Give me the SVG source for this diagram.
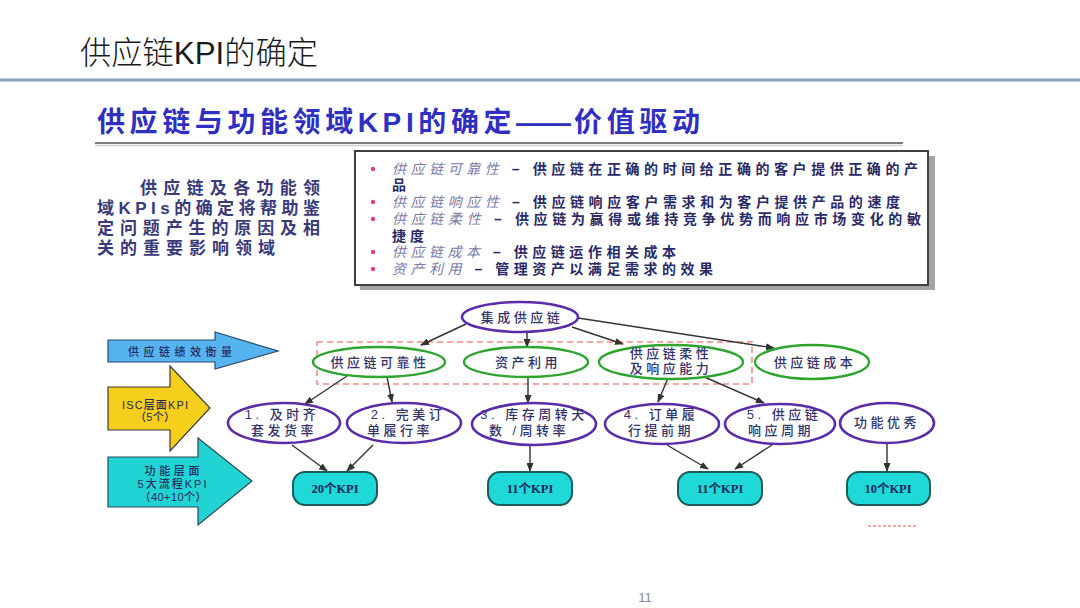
<svg xmlns="http://www.w3.org/2000/svg" width="1080" height="608" viewBox="0 0 1080 608">
<defs>
<style>
.cjk{font-family:"Liberation Sans","Noto Sans CJK SC",sans-serif;}
.lbl{font-family:"Liberation Sans","Noto Sans CJK SC",sans-serif;font-size:13px;letter-spacing:3.5px;fill:#33336b;font-weight:500;text-anchor:middle;}
.arrtxt{font-family:"Liberation Sans","Noto Sans CJK SC",sans-serif;font-size:11px;fill:#2a2a5a;font-weight:500;text-anchor:middle;}
.ellP{fill:#ffffff;stroke:#5a2ca8;stroke-width:2.6;}
.ellG{fill:#ffffff;stroke:#2fa52f;stroke-width:2.4;}
.kpi{fill:#1fd8d8;stroke:#1d5a5a;stroke-width:2;}
.kpitxt{font-family:"Liberation Serif","Noto Sans CJK SC",serif;font-size:12.5px;font-weight:bold;fill:#1a2a5a;text-anchor:middle;}
.conn{stroke:#333333;stroke-width:1.4;fill:none;marker-end:url(#ah);}
.bul{fill:#e0408a;}
.it{font-style:italic;fill:#7a7aa8;font-weight:400;}
.bx{font-family:"Liberation Sans","Noto Sans CJK SC",sans-serif;font-size:14px;letter-spacing:4px;fill:#2a2a66;font-weight:bold;}
.lt{font-family:"Liberation Sans","Noto Sans CJK SC",sans-serif;font-size:17px;font-weight:bold;fill:#3a3a78;}
</style>
<marker id="ah" markerWidth="9" markerHeight="7" refX="8" refY="3.5" orient="auto" markerUnits="userSpaceOnUse">
<path d="M0,0 L9,3.5 L0,7 z" fill="#333333"/>
</marker>
</defs>
<rect width="1080" height="608" fill="#ffffff"/>

<g id="header">
<text x="80" y="64" class="cjk" font-size="32" font-weight="300" fill="#1a1a1a" textLength="238" lengthAdjust="spacingAndGlyphs">供应链KPI的确定</text>
<line x1="0" y1="80" x2="1080" y2="80" stroke="#8c9bb5" stroke-width="3"/>
</g>

<g id="subtitle">
<text x="97" y="132" class="cjk" font-size="28" font-weight="bold" fill="#3030c0" letter-spacing="4.6">供应链与功能领域KPI的确定<tspan letter-spacing="-1">——</tspan><tspan dx="4">价值驱动</tspan></text>
<line x1="95" y1="143" x2="903" y2="143" stroke="#7a7a7a" stroke-width="2"/>
<line x1="95" y1="145.5" x2="903" y2="145.5" stroke="#d0d0d0" stroke-width="1.5"/>
</g>

<g id="intro-text">
<text class="lt" x="140" y="194" textLength="180" lengthAdjust="spacing">供应链及各功能领</text>
<text class="lt" x="97" y="214" textLength="223" lengthAdjust="spacing">域KPIs的确定将帮助鉴</text>
<text class="lt" x="97" y="234" textLength="223" lengthAdjust="spacing">定问题产生的原因及相</text>
<text class="lt" x="97" y="254" textLength="178" lengthAdjust="spacing">关的重要影响领域</text>
</g>

<g id="definition-box">
<rect x="360" y="156" width="575" height="134" fill="#a4a4a4"/>
<rect x="355" y="151" width="573" height="134" fill="#ffffff" stroke="#404040" stroke-width="2"/>
<circle class="bul" cx="373" cy="169" r="2.2"/>
<circle class="bul" cx="373" cy="202" r="2.2"/>
<circle class="bul" cx="373" cy="219" r="2.2"/>
<circle class="bul" cx="373" cy="252" r="2.2"/>
<circle class="bul" cx="373" cy="269" r="2.2"/>
<text class="bx" x="392" y="174" textLength="530" lengthAdjust="spacing"><tspan class="it">供应链可靠性</tspan> – 供应链在正确的时间给正确的客户提供正确的产</text>
<text class="bx" x="392" y="190">品</text>
<text class="bx" x="392" y="207" textLength="512" lengthAdjust="spacing"><tspan class="it">供应链响应性</tspan> – 供应链响应客户需求和为客户提供产品的速度</text>
<text class="bx" x="392" y="224" textLength="533" lengthAdjust="spacing"><tspan class="it">供应链柔性</tspan> – 供应链为赢得或维持竞争优势而响应市场变化的敏</text>
<text class="bx" x="392" y="241">捷度</text>
<text class="bx" x="392" y="257" textLength="288" lengthAdjust="spacing"><tspan class="it">供应链成本</tspan> – 供应链运作相关成本</text>
<text class="bx" x="392" y="274" textLength="325" lengthAdjust="spacing"><tspan class="it">资产利用</tspan> – 管理资产以满足需求的效果</text>
</g>

<g id="arrow-performance">
<polygon points="108,340 215,340 215,332 278,351 215,369 215,362 108,362" fill="#55b4f0" stroke="#2a4a6a" stroke-width="1.2"/>
<text class="arrtxt" x="180" y="356" textLength="104" lengthAdjust="spacing">供应链绩效衡量</text>
</g>
<g id="arrow-isc">
<polygon points="108,387 170,387 170,366 210,408 170,451 170,430 108,430" fill="#f5cf1b" stroke="#3a3a3a" stroke-width="1.2"/>
<text class="arrtxt" x="155" y="409" textLength="66" lengthAdjust="spacing">ISC层面KPI</text>
<text class="arrtxt" x="155" y="421" textLength="40" lengthAdjust="spacing">（5个）</text>
</g>
<g id="arrow-functional">
<polygon points="108,457 198,457 198,438 252,481 198,525 198,507 108,507" fill="#22d3d3" stroke="#2a4a5a" stroke-width="1.2"/>
<text class="arrtxt" x="172" y="475" textLength="55" lengthAdjust="spacing">功能层面</text>
<text class="arrtxt" x="172" y="488" textLength="69" lengthAdjust="spacing">5大流程KPI</text>
<text class="arrtxt" x="173" y="501" textLength="67" lengthAdjust="spacing">（40+10个）</text>
</g>

<g id="dashed-group">
<rect x="317" y="342" width="435" height="42" fill="none" stroke="#f08a8a" stroke-width="1.6" stroke-dasharray="6,4"/>
</g>

<g id="connectors">
<line class="conn" x1="466" y1="324" x2="421" y2="345"/>
<line class="conn" x1="527" y1="332" x2="527" y2="347"/>
<line class="conn" x1="572" y1="327" x2="623" y2="344"/>
<line class="conn" x1="578" y1="318" x2="774" y2="348"/>
<line class="conn" x1="347" y1="376" x2="305" y2="404"/>
<line class="conn" x1="387" y1="377" x2="392" y2="402"/>
<line class="conn" x1="528" y1="377" x2="528" y2="403"/>
<line class="conn" x1="668" y1="378" x2="658" y2="402"/>
<line class="conn" x1="693" y1="372" x2="764" y2="403"/>
<line class="conn" x1="292" y1="445" x2="327" y2="471"/>
<line class="conn" x1="373" y1="445" x2="347" y2="471"/>
<line class="conn" x1="530" y1="445" x2="530" y2="471"/>
<line class="conn" x1="667" y1="445" x2="708" y2="469"/>
<line class="conn" x1="772" y1="445" x2="735" y2="469"/>
<line class="conn" x1="887" y1="443" x2="887" y2="471"/>
</g>

<g id="node-integrated">
<ellipse class="ellP" cx="520" cy="317" rx="58" ry="15" stroke-width="3.5"/>
<text class="lbl" x="522" y="322">集成供应链</text>
</g>
<g id="node-reliability">
<ellipse class="ellG" cx="379" cy="362" rx="66" ry="15" stroke-width="3.5"/>
<text class="lbl" x="380" y="367">供应链可靠性</text>
</g>
<g id="node-assets">
<ellipse class="ellG" cx="526" cy="362" rx="62" ry="15"/>
<text class="lbl" x="528" y="367">资产利用</text>
</g>
<g id="node-flexibility">
<ellipse class="ellG" cx="671" cy="362" rx="72" ry="17"/>
<text class="lbl" x="671" y="358" font-size="12.5" letter-spacing="3">供应链柔性</text>
<text class="lbl" x="671" y="373" font-size="12.5" letter-spacing="3">及响应能力</text>
</g>
<g id="node-cost">
<ellipse class="ellG" cx="812" cy="362" rx="57" ry="17"/>
<text class="lbl" x="815" y="367">供应链成本</text>
</g>

<g id="node-kpi1">
<ellipse class="ellP" cx="284" cy="423" rx="56" ry="20"/>
<text class="lbl" x="282" y="419" letter-spacing="3">1. 及时齐</text>
<text class="lbl" x="284" y="435">套发货率</text>
</g>
<g id="node-kpi2">
<ellipse class="ellP" cx="404" cy="423" rx="57" ry="20"/>
<text class="lbl" x="408" y="419" letter-spacing="3">2. 完美订</text>
<text class="lbl" x="400" y="435">单履行率</text>
</g>
<g id="node-kpi3">
<ellipse class="ellP" cx="534" cy="424" rx="62" ry="21"/>
<text class="lbl" x="534" y="419" letter-spacing="2.2">3. 库存周转天</text>
<text class="lbl" x="529" y="435" letter-spacing="2.5">数 /周转率</text>
</g>
<g id="node-kpi4">
<ellipse class="ellP" cx="662" cy="424" rx="57" ry="20"/>
<text class="lbl" x="661" y="419" letter-spacing="3">4. 订单履</text>
<text class="lbl" x="661" y="435">行提前期</text>
</g>
<g id="node-kpi5">
<ellipse class="ellP" cx="780" cy="424" rx="55" ry="20"/>
<text class="lbl" x="784" y="419" letter-spacing="3">5.  供应链</text>
<text class="lbl" x="781" y="435">响应周期</text>
</g>
<g id="node-excellence">
<ellipse class="ellP" cx="887" cy="423" rx="47" ry="20"/>
<text class="lbl" x="887" y="427" letter-spacing="2.5">功能优秀</text>
</g>

<g id="node-box20">
<rect class="kpi" x="293" y="472" width="84" height="33" rx="12"/>
<text class="kpitxt" x="335" y="493">20个KPI</text>
</g>
<g id="node-box11a">
<rect class="kpi" x="488" y="472" width="84" height="33" rx="12"/>
<text class="kpitxt" x="530" y="493">11个KPI</text>
</g>
<g id="node-box11b">
<rect class="kpi" x="678" y="472" width="84" height="33" rx="12"/>
<text class="kpitxt" x="720" y="493">11个KPI</text>
</g>
<g id="node-box10">
<rect class="kpi" x="847" y="472" width="83" height="33" rx="12"/>
<text class="kpitxt" x="888" y="493">10个KPI</text>
</g>

<line x1="868" y1="526" x2="918" y2="526" stroke="#e04848" stroke-width="1" stroke-dasharray="3,2"/>

<text x="645" y="602" class="cjk" font-size="13" fill="#8a8a8a" text-anchor="middle">11</text>
</svg>
